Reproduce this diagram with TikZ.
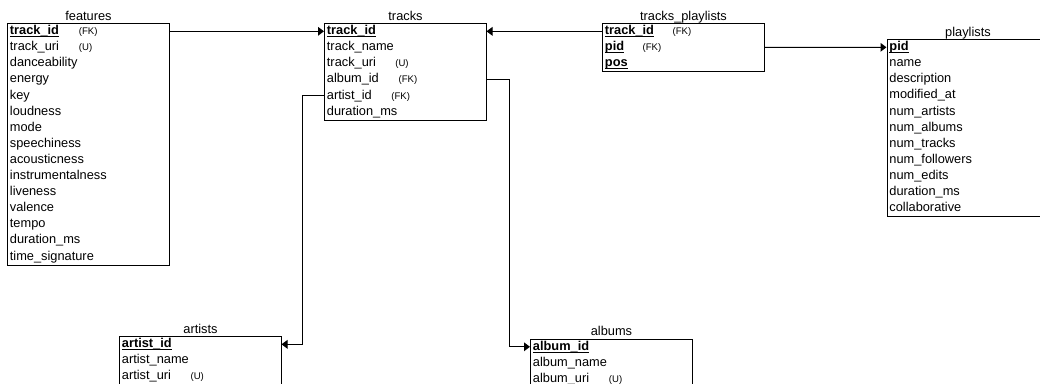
\documentclass[tikz,border=0pt]{standalone}
\usepackage{fontspec}
\setmainfont{Liberation Sans}
\usetikzlibrary{positioning,arrows.meta}

\def\colw{121.5pt}
\def\rowh{12.075pt}
\newcommand\keyf[1]{\underline{\smash{\textbf{#1}}}}
\newcommand\ann[3]{\makebox[#1][l]{#2}{\fontsize{7.2}{8}\selectfont #3}}

\tikzset{
  tbl/.style={draw,anchor=north west,minimum width=\colw,inner sep=0pt,line width=0.75pt},
  rowbox/.style={anchor=north west,minimum height=\rowh,inner xsep=2pt,inner ysep=0pt,
    text width=\colw-4pt,align=left,text height=7pt,text depth=2pt},
  ttl/.style={inner sep=0pt,text height=7pt,text depth=2pt},
  fk/.style={-{Triangle[length=4.5pt,width=6.5pt]},line width=0.75pt}
}

\begin{document}
\begin{tikzpicture}[x=0.75pt,y=-0.75pt,line join=miter,font=\fontsize{9.6}{11.5}\selectfont]
  \useasboundingbox (0,0) rectangle (1040,383);

  % features
  \node[tbl,minimum height=15*\rowh] (feat) at (7,23) {};
  \node[ttl,above=0pt of feat] (feat-t) {features};
  \foreach \t [count=\i] in {{\ann{51.75pt}{\keyf{track\_id}}{(FK)}},{\ann{51.75pt}{track\_uri}{(U)}},
      danceability,energy,key,loudness,mode,speechiness,acousticness,instrumentalness,
      liveness,valence,tempo,duration\_ms,time\_signature}
    \node[rowbox] (feat-\i) at ([yshift={-(\i-1)*\rowh}]feat.north west) {\t};

  % tracks
  \node[tbl,minimum height=6*\rowh] (trk) at (324,23) {};
  \node[ttl,above=0pt of trk] (trk-t) {tracks};
  \foreach \t [count=\i] in {{\keyf{track\_id}},track\_name,{\ann{51.3pt}{track\_uri}{(U)}},
      {\ann{53.8pt}{album\_id}{(FK)}},{\ann{48.3pt}{artist\_id}{(FK)}},duration\_ms}
    \node[rowbox] (trk-\i) at ([yshift={-(\i-1)*\rowh}]trk.north west) {\t};

  % tracks_playlists
  \node[tbl,minimum height=3*\rowh] (tpl) at (602,23) {};
  \node[ttl,above=0pt of tpl] (tpl-t) {tracks\_playlists};
  \foreach \t [count=\i] in {{\ann{50.8pt}{\keyf{track\_id}}{(FK)}},{\ann{28.3pt}{\keyf{pid}}{(FK)}},{\keyf{pos}}}
    \node[rowbox] (tpl-\i) at ([yshift={-(\i-1)*\rowh}]tpl.north west) {\t};

  % playlists
  \node[tbl,minimum height=11*\rowh] (pls) at (886.5,39) {};
  \node[ttl,above=0pt of pls] (pls-t) {playlists};
  \foreach \t [count=\i] in {{\keyf{pid}},name,description,modified\_at,num\_artists,num\_albums,
      num\_tracks,num\_followers,num\_edits,duration\_ms,collaborative}
    \node[rowbox] (pls-\i) at ([yshift={-(\i-1)*\rowh}]pls.north west) {\t};

  % artists
  \node[tbl,minimum height=4*\rowh] (art) at (119,336) {};
  \node[ttl,above=0pt of art] (art-t) {artists};
  \foreach \t [count=\i] in {{\keyf{artist\_id}},artist\_name,{\ann{51.5pt}{artist\_uri}{(U)}}}
    \node[rowbox] (art-\i) at ([yshift={-(\i-1)*\rowh}]art.north west) {\t};

  % albums
  \node[tbl,minimum height=4*\rowh] (alb) at (530,338.5) {};
  \node[ttl,above=0pt of alb] (alb-t) {albums};
  \foreach \t [count=\i] in {{\keyf{album\_id}},album\_name,{\ann{57pt}{album\_uri}{(U)}}}
    \node[rowbox] (alb-\i) at ([yshift={-(\i-1)*\rowh}]alb.north west) {\t};

  % Relations
  \draw[fk] (feat-1.east) -- (trk-1.west);
  \draw[fk] (tpl-1.west) -- (trk-1.east);
  \draw[fk] (tpl-2.east) -- (pls-1.west);
  \draw[fk] (trk-5.west) -- ++(-22,0) |- (art-1.east);
  \draw[fk] (trk-4.east) -- ++(23,0) |- (alb-1.west);
\end{tikzpicture}
\end{document}
